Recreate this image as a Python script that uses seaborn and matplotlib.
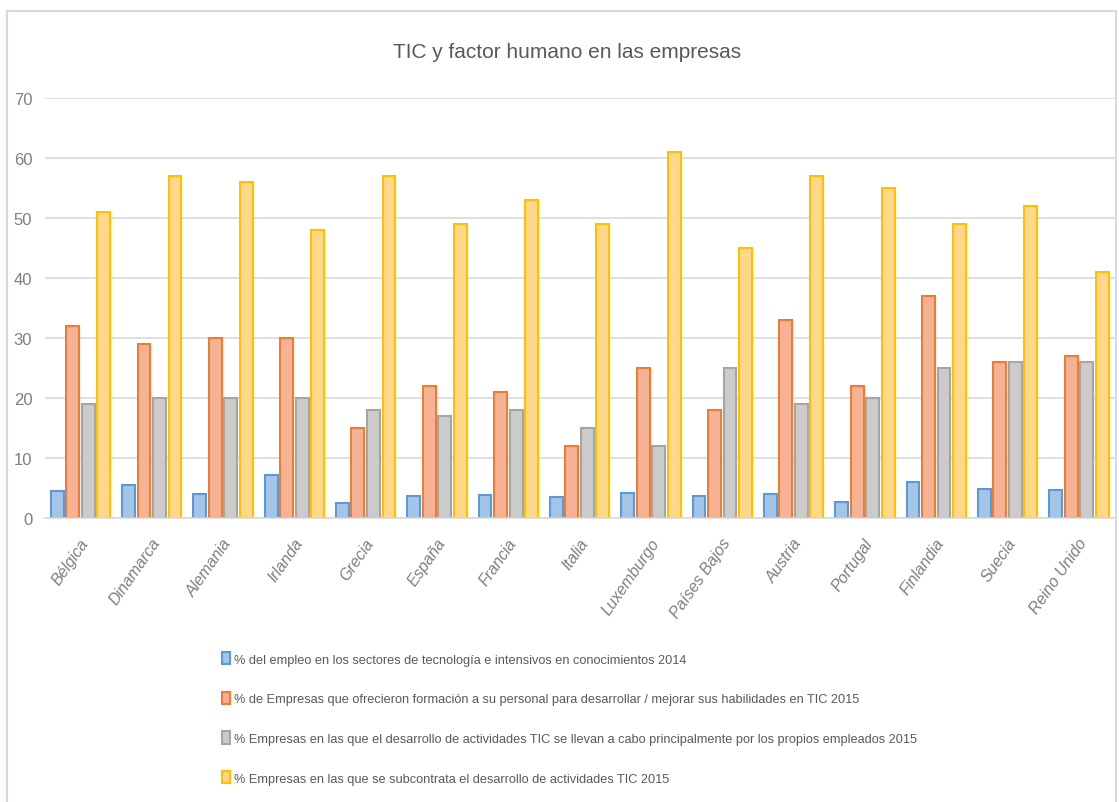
import pandas as pd
import seaborn as sns
import matplotlib.pyplot as plt
import matplotlib.transforms as mtransforms
from matplotlib.patches import Patch, Rectangle

paises = ['Bélgica', 'Dinamarca', 'Alemania', 'Irlanda', 'Grecia', 'España', 'Francia',
          'Italia', 'Luxemburgo', 'Países Bajos', 'Austria', 'Portugal', 'Finlandia',
          'Suecia', 'Reino Unido']

series = [
    '% del empleo en los sectores de tecnología e intensivos en conocimientos 2014',
    '% de Empresas que ofrecieron formación a su personal para desarrollar / mejorar sus habilidades en TIC 2015',
    '% Empresas en las que el desarrollo de actividades TIC se llevan a cabo principalmente por los propios empleados 2015',
    '% Empresas en las que se subcontrata el desarrollo de actividades TIC 2015',
]

empleo = [4.4, 5.5, 4.0, 7.2, 2.5, 3.6, 3.8, 3.4, 4.2, 3.6, 4.0, 2.7, 5.9, 4.8, 4.6]
formacion = [32, 29, 30, 30, 15, 22, 21, 12, 25, 18, 33, 22, 37, 26, 27]
propios = [19, 20, 20, 20, 18, 17, 18, 15, 12, 25, 19, 20, 25, 26, 26]
subcontrata = [51, 57, 56, 48, 57, 49, 53, 49, 61, 45, 57, 55, 49, 52, 41]

fill_colors = ['#a4c4e8', '#f5b295', '#cbcbcb', '#fed88a']
edge_colors = ['#5b9bd5', '#ed7d31', '#a5a5a5', '#ffc000']

# long-form table for seaborn
rows = []
for name, vals in zip(series, [empleo, formacion, propios, subcontrata]):
    for p, v in zip(paises, vals):
        rows.append({'pais': p, 'serie': name, 'valor': v})
df = pd.DataFrame(rows)

sns.set_style('white')
plt.rcParams['font.family'] = ['Liberation Sans', 'DejaVu Sans']

fig = plt.figure(figsize=(11.19, 8.03), dpi=100)
ax = fig.add_axes([0.040, 0.354, 0.956, 0.523])

sns.barplot(data=df, x='pais', y='valor', hue='serie', hue_order=series,
            palette=fill_colors, saturation=1, width=0.87, gap=0.17, ax=ax,
            legend=False, errorbar=None)

for cont, ec in zip(ax.containers, edge_colors):
    for bar in cont:
        bar.set_edgecolor(ec)
        bar.set_linewidth(1.5)

ax.set_ylim(0, 70)
ax.set_xlim(-0.5, len(paises) - 0.5)
ax.set_yticks(range(0, 71, 10))
ax.yaxis.grid(True, color='#d9d9d9', linewidth=1.2)
ax.set_axisbelow(True)
for s in ['top', 'right', 'left']:
    ax.spines[s].set_visible(False)
ax.spines['bottom'].set_color('#d9d9d9')
ax.spines['bottom'].set_linewidth(1.2)
ax.set_xlabel('')
ax.set_ylabel('')
ax.tick_params(axis='both', length=0)
ax.tick_params(axis='y', labelsize=12, labelcolor='#7f7f7f', pad=9)

ax.set_xticks(range(len(paises)))
ax.set_xticklabels(paises, rotation=55, ha='right', va='center',
                   rotation_mode='anchor', fontsize=11.5, color='#7f7f7f',
                   fontstyle='italic')
offset = mtransforms.ScaledTranslation(0.05, -0.17, fig.dpi_scale_trans)
for lab in ax.get_xticklabels():
    lab.set_transform(lab.get_transform() + offset)

fig.text(0.507, 0.935, 'TIC y factor humano en las empresas', ha='center',
         va='center', fontsize=15, color='#595959')

handles = [Patch(facecolor=f, edgecolor=e, linewidth=1.5) for f, e in zip(fill_colors, edge_colors)]
fig.legend(handles, series, loc='upper left', bbox_to_anchor=(0.194, 0.193),
           frameon=False, fontsize=9.2, labelcolor='#595959', handlelength=0.6,
           handleheight=1.1, handletextpad=0.35, labelspacing=2.05,
           borderaxespad=0)

fig.patches.append(Rectangle((0.0065, -0.01), 0.991, 0.995, transform=fig.transFigure,
                             fill=False, edgecolor='#d9d9d9', linewidth=1.5))

fig.savefig('out.png', dpi=100)
